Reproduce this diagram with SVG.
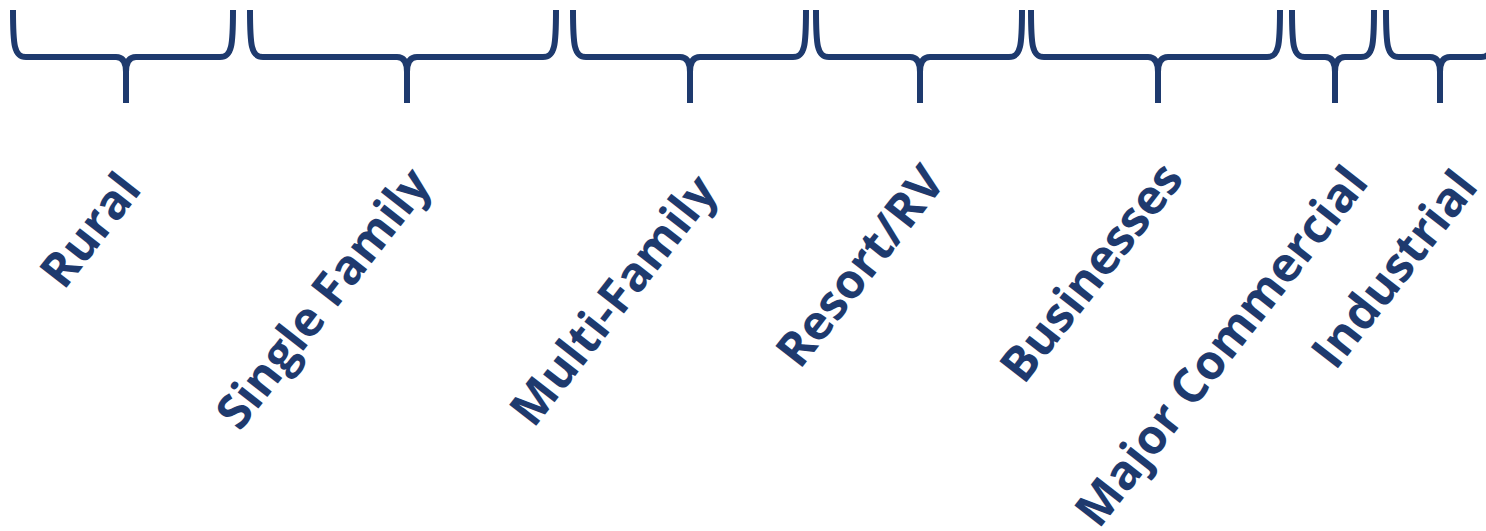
<svg xmlns="http://www.w3.org/2000/svg" width="1486" height="531" viewBox="0 0 1486 531">
  <style>
    .brace { fill: none; stroke: #1e3a6e; stroke-width: 6; stroke-linejoin: round; stroke-linecap: butt; }
    .label { font-family: "Open Sans", "Liberation Sans", sans-serif; font-weight: 700; font-size: 48px; fill: #1e3a6e; text-anchor: middle; }
  </style>
  <rect width="1486" height="531" fill="#ffffff"/>

  <!-- Braces grouping the segments -->
  <g id="connectors">
    <path class="brace" d="M13,10 C13,45 14,57 26,57 H116 Q126,57 126,72 V103 M233,10 C233,45 232,57 220,57 H136 Q126,57 126,72"/>
    <path class="brace" d="M250,10 C250,45 251,57 263,57 H397 Q407,57 407,72 V103 M556,10 C556,45 555,57 543,57 H417 Q407,57 407,72"/>
    <path class="brace" d="M573,10 C573,45 574,57 586,57 H680 Q690,57 690,72 V103 M806,10 C806,45 805,57 793,57 H700 Q690,57 690,72"/>
    <path class="brace" d="M816,10 C816,45 817,57 829,57 H910 Q920,57 920,72 V103 M1022,10 C1022,45 1021,57 1009,57 H930 Q920,57 920,72"/>
    <path class="brace" d="M1031,10 C1031,45 1032,57 1044,57 H1148 Q1158,57 1158,72 V103 M1280,10 C1280,45 1279,57 1267,57 H1168 Q1158,57 1158,72"/>
    <path class="brace" d="M1292,10 C1292,45 1293,57 1305,57 H1325 Q1335,57 1335,72 V103 M1374,10 C1374,45 1373,57 1361,57 H1345 Q1335,57 1335,72"/>
    <path class="brace" d="M1386,10 C1386,45 1387,57 1399,57 H1430 Q1440,57 1440,72 V103 M1494,10 C1494,45 1493,57 1481,57 H1450 Q1440,57 1440,72"/>
  </g>

  <!-- Segment labels -->
  <g id="rural"><text class="label" transform="translate(90,230) rotate(-52)" y="17">Rural</text></g>
  <g id="single-family"><text class="label" transform="translate(323,298) rotate(-52)" y="17">Single Family</text></g>
  <g id="multi-family"><text class="label" transform="translate(613,300) rotate(-52)" y="17">Multi-Family</text></g>
  <g id="resort-rv"><text class="label" transform="translate(860,266) rotate(-52)" y="17">Resort/RV</text></g>
  <g id="businesses"><text class="label" transform="translate(1091,272) rotate(-52)" y="17">Businesses</text></g>
  <g id="major-commercial"><text class="label" transform="translate(1221,346) rotate(-52)" y="17">Major Commercial</text></g>
  <g id="industrial"><text class="label" transform="translate(1394,269) rotate(-52)" y="17">Industrial</text></g>
</svg>
